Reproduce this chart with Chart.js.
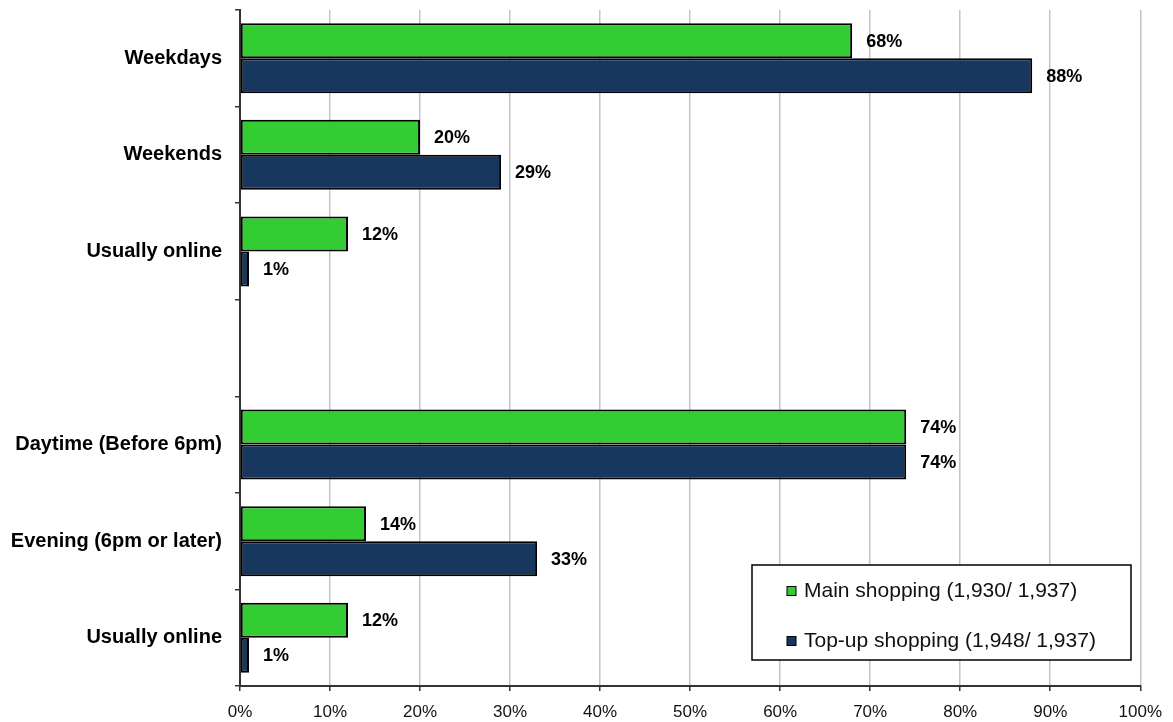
<!DOCTYPE html>
<html>
<head>
<meta charset="utf-8">
<script src="https://cdn.jsdelivr.net/npm/chart.js@4.4.1/dist/chart.umd.min.js"></script>
<style>
  html, body { margin: 0; padding: 0; background: #fff; }
  #wrap { width: 1173px; height: 722px; }
</style>
</head>
<body>
<div id="wrap"><canvas id="shoppingTimes"></canvas></div>
<script>
// categories (the blank one separates the two question groups)
var categories = ['Weekdays', 'Weekends', 'Usually online', '', 'Daytime (Before 6pm)', 'Evening (6pm or later)', 'Usually online'];
var mainShopping = [68, 20, 12, null, 74, 14, 12];
var topUpShopping = [88, 29, 1, null, 74, 33, 1];
var seriesNames = ['Main shopping (1,930/ 1,937)', 'Top-up shopping (1,948/ 1,937)'];
var xTicks = [0, 10, 20, 30, 40, 50, 60, 70, 80, 90, 100];

var FONT = '"Liberation Sans", Arial, sans-serif';

// percent labels to the right of each bar
var barLabels = {
    id: 'barLabels',
    afterDatasetsDraw: function(chart) {
        var ctx = chart.ctx;
        ctx.save();
        ctx.font = 'bold 18px ' + FONT;
        ctx.fillStyle = '#000';
        ctx.textAlign = 'left';
        ctx.textBaseline = 'middle';
        chart.data.datasets.forEach(function(ds, i) {
            chart.getDatasetMeta(i).data.forEach(function(bar, j) {
                var v = ds.data[j];
                if (v === null || v === undefined) return;
                ctx.fillText(v + '%', bar.x + 14, bar.y + 1);
            });
        });
        ctx.restore();
    }
};

// boxed legend sitting inside the plot, bottom right
var boxLegend = {
    id: 'boxLegend',
    afterDraw: function(chart) {
        var ctx = chart.ctx;
        var x0 = 752, y0 = 565, w = 379, h = 95;
        ctx.save();
        ctx.fillStyle = '#fff';
        ctx.fillRect(x0, y0, w, h);
        ctx.strokeStyle = '#000';
        ctx.lineWidth = 1.5;
        ctx.strokeRect(x0, y0, w, h);
        ctx.font = '21px ' + FONT;
        ctx.textBaseline = 'middle';
        ctx.textAlign = 'left';
        chart.data.datasets.forEach(function(ds, i) {
            var cy = y0 + 26 + i * 50;
            ctx.fillStyle = ds.backgroundColor;
            ctx.fillRect(787, cy - 4.5, 9, 9);
            ctx.lineWidth = 1;
            ctx.strokeStyle = '#000';
            ctx.strokeRect(787, cy - 4.5, 9, 9);
            ctx.fillStyle = '#111';
            ctx.fillText(ds.label, 804, cy);
        });
        ctx.restore();
    }
};

new Chart(document.getElementById('shoppingTimes'), {
    type: 'bar',
    data: {
        labels: categories,
        datasets: [
            {
                label: seriesNames[0],
                data: mainShopping,
                backgroundColor: '#33CC33',
                borderColor: '#000',
                borderWidth: 2,
                borderSkipped: false
            },
            {
                label: seriesNames[1],
                data: topUpShopping,
                backgroundColor: '#17375E',
                borderColor: '#000',
                borderWidth: 2,
                borderSkipped: false
            }
        ]
    },
    options: {
        indexAxis: 'y',
        responsive: true,
        maintainAspectRatio: false,
        animation: false,
        layout: { padding: { top: 10, right: 32, left: 0, bottom: 0 } },
        datasets: {
            bar: { categoryPercentage: 0.725, barPercentage: 1.0 }
        },
        plugins: {
            legend: { display: false },
            tooltip: { enabled: false }
        },
        scales: {
            x: {
                type: 'linear',
                min: 0,
                max: 100,
                afterBuildTicks: function(scale) {
                    scale.ticks = xTicks.map(function(v) { return { value: v }; });
                },
                afterFit: function(scale) { scale.height = 36; },
                grid: {
                    color: '#c4c4c4',
                    lineWidth: 1.5,
                    tickColor: '#333',
                    tickLength: 5
                },
                border: { color: '#333', width: 2 },
                ticks: {
                    color: '#111',
                    font: { family: FONT, size: 17 },
                    padding: 11,
                    maxRotation: 0,
                    callback: function(v) { return v + '%'; }
                }
            },
            y: {
                afterFit: function(scale) {
                    scale.width = 240;
                    scale.paddingTop = 0;
                    scale.paddingBottom = 0;
                },
                grid: {
                    drawOnChartArea: false,
                    offset: true,
                    color: '#333',
                    tickLength: 5,
                    lineWidth: 1.5
                },
                border: { color: '#333', width: 2 },
                ticks: {
                    color: '#000',
                    font: { family: FONT, size: 20, weight: 'bold' },
                    padding: 13
                }
            }
        }
    },
    plugins: [barLabels, boxLegend]
});
</script>
</body>
</html>
